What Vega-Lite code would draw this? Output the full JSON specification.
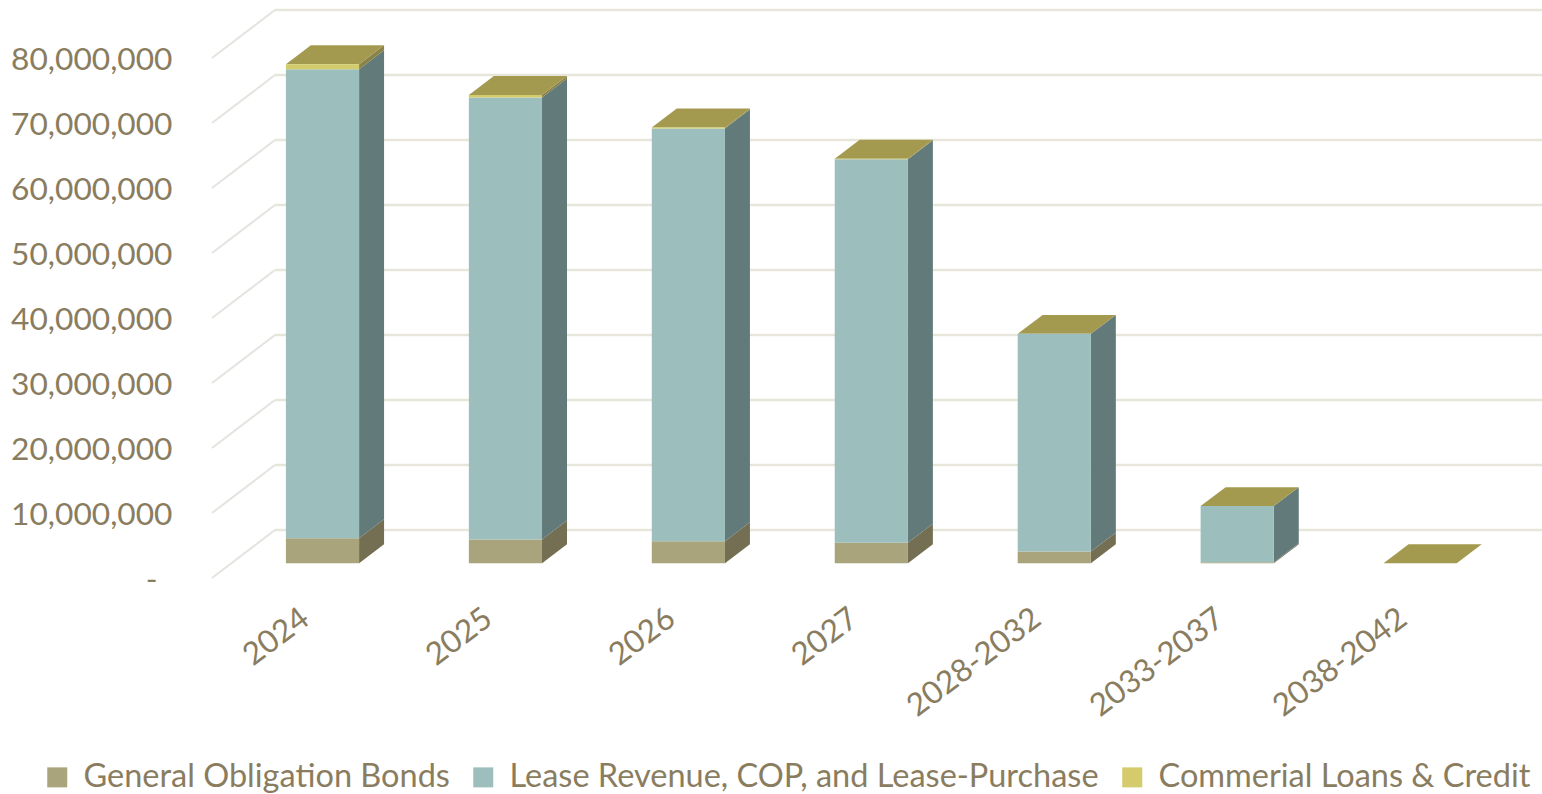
{
  "$schema": "https://vega.github.io/schema/vega-lite/v6.json",
  "width": 1330,
  "height": 568,
  "autosize": {"type": "none"},
  "padding": {"left": 212, "top": 10, "right": 0, "bottom": 216},
  "background": "white",
  "config": {"view": {"stroke": null}, "font": "Lato"},
  "datasets": {
    "levels": [
      {"level": 0}, {"level": 10000000}, {"level": 20000000}, {"level": 30000000}, {"level": 40000000},
      {"level": 50000000}, {"level": 60000000}, {"level": 70000000}, {"level": 80000000}
    ],
    "debt": [
      {"period": "2024", "series": "General Obligation Bonds", "amount": 3850000},
      {"period": "2024", "series": "Lease Revenue, COP, and Lease-Purchase", "amount": 72150000},
      {"period": "2024", "series": "Commerial Loans & Credit", "amount": 770000},
      {"period": "2025", "series": "General Obligation Bonds", "amount": 3650000},
      {"period": "2025", "series": "Lease Revenue, COP, and Lease-Purchase", "amount": 68000000},
      {"period": "2025", "series": "Commerial Loans & Credit", "amount": 400000},
      {"period": "2026", "series": "General Obligation Bonds", "amount": 3400000},
      {"period": "2026", "series": "Lease Revenue, COP, and Lease-Purchase", "amount": 63500000},
      {"period": "2026", "series": "Commerial Loans & Credit", "amount": 150000},
      {"period": "2027", "series": "General Obligation Bonds", "amount": 3150000},
      {"period": "2027", "series": "Lease Revenue, COP, and Lease-Purchase", "amount": 59000000},
      {"period": "2027", "series": "Commerial Loans & Credit", "amount": 100000},
      {"period": "2028-2032", "series": "General Obligation Bonds", "amount": 1800000},
      {"period": "2028-2032", "series": "Lease Revenue, COP, and Lease-Purchase", "amount": 33500000},
      {"period": "2028-2032", "series": "Commerial Loans & Credit", "amount": 0},
      {"period": "2033-2037", "series": "General Obligation Bonds", "amount": 150000},
      {"period": "2033-2037", "series": "Lease Revenue, COP, and Lease-Purchase", "amount": 8650000},
      {"period": "2033-2037", "series": "Commerial Loans & Credit", "amount": 0},
      {"period": "2038-2042", "series": "General Obligation Bonds", "amount": 0},
      {"period": "2038-2042", "series": "Lease Revenue, COP, and Lease-Purchase", "amount": 0},
      {"period": "2038-2042", "series": "Commerial Loans & Credit", "amount": 0}
    ]
  },
  "data": {"name": "debt"},
  "transform": [
    {"calculate": "indexof(['2024','2025','2026','2027','2028-2032','2033-2037','2038-2042'], datum.period)", "as": "slot"},
    {"calculate": "indexof(['General Obligation Bonds','Lease Revenue, COP, and Lease-Purchase','Commerial Loans & Credit'], datum.series)", "as": "rank"},
    {"stack": "amount", "groupby": ["period"], "sort": [{"field": "rank", "order": "ascending"}], "as": ["low", "high"]}
  ],
  "layer": [
    {
      "description": "Back wall gridlines, running along the wall behind the columns",
      "data": {"name": "levels"},
      "transform": [{"calculate": "datum.level + 7385000", "as": "wall"}],
      "mark": {"type": "rule", "stroke": "#E8E6DA", "strokeWidth": 2.5},
      "encoding": {
        "x": {"datum": 0.344, "type": "quantitative", "scale": {"domain": [0, 7.27], "nice": false, "zero": false},
          "axis": {
            "orient": "bottom", "values": [0.5, 1.5, 2.5, 3.5, 4.5, 5.5, 6.5], "title": null, "domain": false, "ticks": false, "grid": false,
            "labelExpr": "['2024','2025','2026','2027','2028-2032','2033-2037','2038-2042'][floor(datum.value)]",
            "labelAngle": -37, "labelAlign": "right", "labelBaseline": "middle", "labelPadding": 37, "labelOffset": 2,
            "labelFont": "Lato", "labelFontSize": 31.5, "labelColor": "#8A7D5F", "labelOverlap": false, "labelBound": false, "labelFlush": false
          }
        },
        "x2": {"datum": 7.27},
        "y": {"field": "wall", "type": "quantitative", "scale": {"domain": [0, 87385000], "nice": false},
          "axis": {
            "orient": "left", "values": [0, 10000000, 20000000, 30000000, 40000000, 50000000, 60000000, 70000000, 80000000], "title": null, "domain": false, "ticks": false, "grid": false,
            "offset": 40, "labelOffset": 1,
            "labelPadding": {"condition": {"test": "datum.value === 0", "value": 15}, "value": 0},
            "labelExpr": "datum.value === 0 ? '-' : format(datum.value, ',')",
            "labelFont": "Lato", "labelFontSize": 31.7, "labelColor": "#8A7D5F", "labelOverlap": false, "labelBound": false
          }
        }
      }
    },
    {
      "description": "Side wall gridlines, slanting from the front corner to the back wall",
      "data": {"name": "levels"},
      "transform": [{"calculate": "datum.level + 7385000", "as": "wall"}],
      "mark": {"type": "rule", "stroke": "#E4E4DF", "strokeWidth": 2},
      "encoding": {
        "x": {"datum": 0, "type": "quantitative"},
        "x2": {"datum": 0.344},
        "y": {"field": "level", "type": "quantitative"},
        "y2": {"field": "wall"}
      }
    },
    {
      "description": "Right-hand faces of each stacked segment, sheared back by the column depth",
      "transform": [
        {"filter": "datum.amount > 0"},
        {"calculate": "[0, 1]", "as": "t"},
        {"flatten": ["t"]},
        {"calculate": "datum.slot + 0.804 + datum.t * 0.1365", "as": "sx"},
        {"calculate": "datum.low + 2260000 + datum.t * 2920000", "as": "sy"},
        {"calculate": "datum.high + 2260000 + datum.t * 2920000", "as": "sy2"}
      ],
      "mark": {"type": "area", "line": false},
      "encoding": {
        "x": {"field": "sx", "type": "quantitative"},
        "y": {"field": "sy", "type": "quantitative", "stack": null},
        "y2": {"field": "sy2"},
        "detail": {"field": "period"},
        "color": {"field": "series", "type": "nominal", "legend": null,
          "scale": {
            "domain": ["General Obligation Bonds", "Lease Revenue, COP, and Lease-Purchase", "Commerial Loans & Credit"],
            "range": ["#746E52", "#637A7A", "#8A8247"]
          }
        }
      }
    },
    {
      "description": "Top face of every column, drawn at the height of its full stack",
      "transform": [
        {"filter": "datum.rank === 2"},
        {"calculate": "[0, 1]", "as": "t"},
        {"flatten": ["t"]},
        {"calculate": "datum.slot + 0.404 + datum.t * 0.1365", "as": "tx"},
        {"calculate": "datum.tx + 0.4", "as": "tx2"},
        {"calculate": "datum.high + 2260000 + datum.t * 2920000", "as": "ty"}
      ],
      "mark": {"type": "area", "orient": "horizontal", "color": "#A39A50"},
      "encoding": {
        "y": {"field": "ty", "type": "quantitative", "stack": null},
        "x": {"field": "tx", "type": "quantitative", "stack": null},
        "x2": {"field": "tx2"},
        "detail": {"field": "period"}
      }
    },
    {
      "description": "Front faces of the stacked segments",
      "transform": [
        {"filter": "datum.amount > 0"},
        {"calculate": "datum.slot + 0.404", "as": "fx"},
        {"calculate": "datum.fx + 0.4", "as": "fx2"},
        {"calculate": "datum.low + 2260000", "as": "fy"},
        {"calculate": "datum.high + 2260000", "as": "fy2"}
      ],
      "mark": {"type": "rect"},
      "encoding": {
        "x": {"field": "fx", "type": "quantitative"},
        "x2": {"field": "fx2"},
        "y": {"field": "fy", "type": "quantitative"},
        "y2": {"field": "fy2"},
        "color": {"field": "series", "type": "nominal",
          "scale": {
            "domain": ["General Obligation Bonds", "Lease Revenue, COP, and Lease-Purchase", "Commerial Loans & Credit"],
            "range": ["#A9A47C", "#9CBFBD", "#D3CB6C"]
          },
          "legend": {
            "orient": "none", "legendX": -171, "legendY": 751, "direction": "horizontal", "title": null,
            "symbolType": "square", "symbolSize": 400, "symbolStrokeWidth": 0, "symbolOpacity": 1,
            "labelFont": "Lato", "labelFontSize": 32.5, "labelColor": "#8A7D5F", "labelOffset": 10, "columnPadding": 17, "labelLimit": 700
          }
        }
      }
    }
  ],
  "resolve": {"scale": {"color": "independent"}}
}
